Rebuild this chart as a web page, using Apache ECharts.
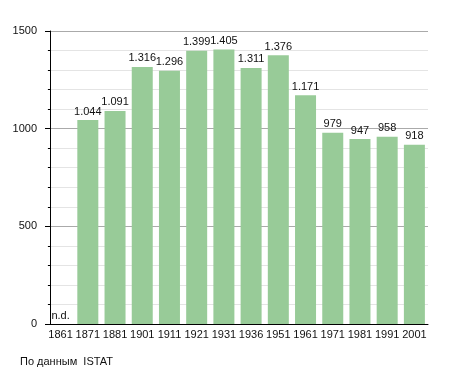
<!DOCTYPE html>
<html><head><meta charset="utf-8">
<script src="https://cdn.jsdelivr.net/npm/echarts@6/dist/echarts.min.js"></script>
<style>html,body{margin:0;padding:0;background:#fff}#c{width:455px;height:373px}</style>
</head><body><div id="c"></div>
<script>
const years = ['1861','1871','1881','1901','1911','1921','1931','1936','1951','1961','1971','1981','1991','2001'];
const population = [null,1044,1091,1316,1296,1399,1405,1311,1376,1171,979,947,958,918];
const yTicks = [0,500,1000,1500];
const sourceText = 'По данным  ISTAT';
const FONT = '"Liberation Sans", Arial, sans-serif';
const fmt = v => v >= 1000 ? Math.floor(v/1000) + '.' + String(v%1000).padStart(3,'0') : String(v);
const chart = echarts.init(document.getElementById('c'), null, {renderer:'canvas'});
chart.setOption({
  animation:false,
  backgroundColor:'#fff',
  grid:{left:47, right:27, top:31, bottom:49, containLabel:false},
  xAxis:{type:'category', data:years, boundaryGap:true,
    axisLine:{show:true, lineStyle:{color:'#000', width:1}},
    axisTick:{show:false},
    axisLabel:{color:'#111', fontFamily:FONT, fontSize:11, margin:5, interval:0}},
  yAxis:{type:'value', min:yTicks[0], max:yTicks[yTicks.length-1], interval:500, offset:-3,
    axisLine:{show:true, lineStyle:{color:'#000', width:1}},
    axisTick:{show:true, length:5, lineStyle:{color:'#000'}},
    minorTick:{show:true, splitNumber:5, length:2, lineStyle:{color:'#000'}},
    axisLabel:{color:'#111', fontFamily:FONT, fontSize:11, margin:13, formatter:v => String(v)},
    splitLine:{show:true, lineStyle:{color:'#aaa', width:1}},
    minorSplitLine:{show:true, lineStyle:{color:'#e4e4e4', width:1}}},
  series:[{type:'bar', barWidth:21,
    data:population.map(v => v === null ? {value:0, nd:true} : v),
    itemStyle:{color:'#98cb98'},
    label:{show:true, position:'top', distance:3, color:'#111', fontFamily:FONT, fontSize:11,
      formatter:p => (p.data && p.data.nd) ? 'n.d.' : fmt(p.value)}}],
  graphic:[{type:'text', left:20, top:356, style:{text:sourceText, fill:'#111', font:'11px "Liberation Sans", Arial, sans-serif'}}]
});
</script></body></html>
